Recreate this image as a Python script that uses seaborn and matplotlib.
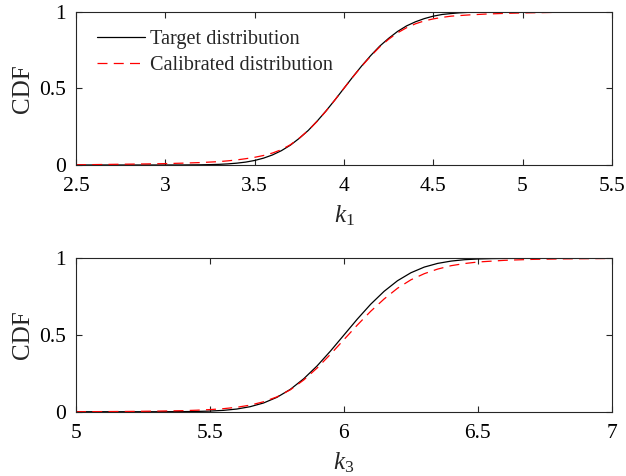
import numpy as np
import pandas as pd
import seaborn as sns
import matplotlib
matplotlib.use("Agg")
import matplotlib.pyplot as plt

# ---- data ----
k1_target_x = [2.5, 3.0, 3.1, 3.2, 3.25, 3.3, 3.35, 3.4, 3.45, 3.5, 3.55, 3.6, 3.65, 3.7, 3.75,
               3.8, 3.85, 3.9, 3.95, 4.0, 4.05, 4.1, 4.15, 4.2, 4.25, 4.3, 4.35, 4.4, 4.45,
               4.5, 4.55, 4.6, 4.65, 4.7, 4.8, 4.9, 5.5]
k1_target_cdf = [0.0, 0.0, 0.0003, 0.0013, 0.0024, 0.0041, 0.0071, 0.0119, 0.0188, 0.0294, 0.0446,
                 0.0655, 0.0934, 0.129, 0.174, 0.225, 0.286, 0.353, 0.425, 0.5, 0.575, 0.647,
                 0.714, 0.775, 0.826, 0.871, 0.907, 0.934, 0.955, 0.971, 0.982, 0.988, 0.993,
                 0.996, 0.999, 1.0, 1.0]

k1_calib_x = [2.5, 2.7, 2.9, 3.0, 3.1, 3.2, 3.3, 3.35, 3.4, 3.45, 3.5, 3.55, 3.6, 3.65, 3.7,
              3.75, 3.8, 3.85, 3.9, 3.95, 4.0, 4.05, 4.1, 4.15, 4.2, 4.25, 4.3, 4.35, 4.4,
              4.45, 4.5, 4.55, 4.6, 4.7, 4.8, 4.9, 5.0, 5.2, 5.5]
k1_calib_cdf = [0.001, 0.004, 0.007, 0.009, 0.012, 0.016, 0.022, 0.027, 0.033, 0.041, 0.05,
                0.062, 0.078, 0.1, 0.132, 0.175, 0.225, 0.285, 0.352, 0.425, 0.5, 0.574,
                0.645, 0.71, 0.77, 0.82, 0.862, 0.895, 0.921, 0.94, 0.953, 0.963, 0.971,
                0.979, 0.985, 0.989, 0.992, 0.996, 0.999]

k3_target_x = [5.0, 5.3, 5.4, 5.45, 5.5, 5.55, 5.6, 5.65, 5.7, 5.75, 5.8, 5.85, 5.9, 5.95, 6.0,
               6.05, 6.1, 6.15, 6.2, 6.25, 6.3, 6.35, 6.4, 6.45, 6.5, 6.55, 6.6, 6.7, 7.0]
k3_target_cdf = [0.0, 0.0001, 0.0008, 0.0019, 0.0043, 0.0089, 0.0176, 0.0329, 0.0571, 0.094,
                 0.146, 0.215, 0.299, 0.396, 0.5, 0.604, 0.701, 0.785, 0.854, 0.906, 0.943,
                 0.967, 0.982, 0.991, 0.9957, 0.9981, 0.9992, 1.0, 1.0]

k3_calib_x = [5.0, 5.1, 5.2, 5.3, 5.4, 5.45, 5.5, 5.55, 5.6, 5.65, 5.7, 5.75, 5.8, 5.85, 5.9,
              5.95, 6.0, 6.05, 6.1, 6.15, 6.2, 6.25, 6.3, 6.35, 6.4, 6.45, 6.5, 6.6, 6.7,
              6.8, 7.0]
k3_calib_cdf = [0.0, 0.001, 0.002, 0.004, 0.007, 0.01, 0.014, 0.02, 0.029, 0.043, 0.065, 0.097,
                0.143, 0.207, 0.285, 0.375, 0.47, 0.565, 0.655, 0.735, 0.805, 0.86, 0.9,
                0.93, 0.952, 0.966, 0.976, 0.987, 0.993, 0.996, 0.999]

series_names = ["Target distribution", "Calibrated distribution"]
k1_ticks = [2.5, 3, 3.5, 4, 4.5, 5, 5.5]
k3_ticks = [5, 5.5, 6, 6.5, 7]
y_ticks = [0, 0.5, 1]
y_ticklabels = ["0", "0.5", "1"]

# ---- style ----
sns.set_theme(style="ticks")
plt.rcParams["font.family"] = ["Liberation Serif", "DejaVu Serif"]
plt.rcParams["mathtext.fontset"] = "custom"
plt.rcParams["mathtext.rm"] = "Liberation Serif"
plt.rcParams["mathtext.it"] = "Liberation Serif:italic"
axcol = "#262626"
DASH = (0, (8, 5))

fig = plt.figure(figsize=(6.26, 4.76), dpi=100)
ax1 = fig.add_axes([0.1214, 0.6534, 0.856, 0.3220])
ax2 = fig.add_axes([0.1214, 0.1350, 0.856, 0.3223])


def draw(ax, tx, ty, cx, cy, xlim, xticks, xlabel, legend):
    df_t = pd.DataFrame({"x": tx, "y": ty})
    df_c = pd.DataFrame({"x": cx, "y": cy})
    sns.lineplot(data=df_t, x="x", y="y", ax=ax, color="black", linewidth=0.9,
                 label=series_names[0] if legend else None, estimator=None, sort=False)
    sns.lineplot(data=df_c, x="x", y="y", ax=ax, color="red", linewidth=0.9,
                 label=series_names[1] if legend else None,
                 estimator=None, sort=False)
    ax.lines[-1].set_linestyle(DASH)
    ax.set_xlim(*xlim)
    ax.set_ylim(0, 1)
    ax.set_xticks(xticks)
    ax.set_xticklabels([f"{t:g}" for t in xticks])
    ax.set_yticks(y_ticks)
    ax.set_yticklabels(y_ticklabels)
    ax.tick_params(direction="in", top=True, right=True, length=4, width=0.8,
                   labelsize=15.5, colors=axcol, labelcolor="black")
    ax.tick_params(axis="x", pad=9)
    ax.tick_params(axis="y", pad=7)
    for sp in ax.spines.values():
        sp.set_visible(True)
        sp.set_color(axcol)
        sp.set_linewidth(0.8)
    ax.set_xlabel(xlabel, fontsize=18, labelpad=5)
    ax.set_ylabel("CDF", fontsize=18, labelpad=4)
    if legend:
        leg = ax.legend(loc="upper left", frameon=False, fontsize=14.6,
                        handlelength=2.4, handletextpad=0.25, labelspacing=0.35,
                        borderaxespad=0.3, bbox_to_anchor=(0.012, 0.975))
        leg.get_lines()[1].set_linestyle(DASH)
    else:
        lg = ax.get_legend()
        if lg is not None:
            lg.remove()


draw(ax1, k1_target_x, k1_target_cdf, k1_calib_x, k1_calib_cdf, (2.5, 5.5), k1_ticks,
     r"$k_1$", True)
draw(ax2, k3_target_x, k3_target_cdf, k3_calib_x, k3_calib_cdf, (5, 7), k3_ticks,
     r"$k_3$", False)

fig.savefig("out.png", dpi=100)
